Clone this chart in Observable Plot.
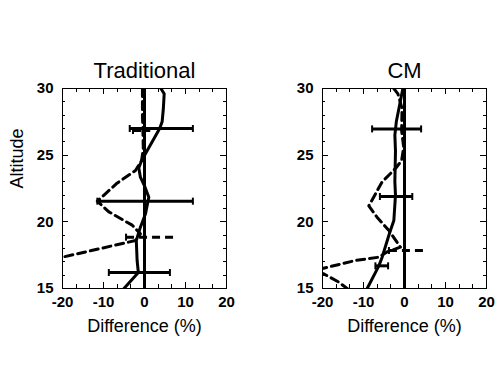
<!DOCTYPE html>
<html>
<head>
<meta charset="utf-8">
<script src="https://cdn.jsdelivr.net/npm/d3@7"></script>
<script src="https://cdn.jsdelivr.net/npm/@observablehq/plot@0.6"></script>
<style>
  html, body { margin: 0; padding: 0; background: #fff; }
  #chart { position: relative; width: 504px; height: 372px; background: #fff; overflow: hidden; }
  #chart svg { position: absolute; top: 0; }
</style>
</head>
<body>
<div id="chart"></div>
<script>
// ---------- data ----------
const panelTitles = ["Traditional", "CM"];

// Traditional panel: solid profile (difference %, altitude)
const tradSolidX   = [4.0, 4.8, 4.6, 4.3, 3.7, -0.7, -1.4, -1.0, 0.0, 1.05, 0.25, -1.0, -2.0, -1.8, -1.5, -5.0];
const tradSolidAlt = [30, 29.6, 28.5, 27.5, 27.0, 24.6, 24.05, 23.35, 22.7, 21.85, 20.6, 19.6, 18.6, 17.1, 16.2, 15.0];
// Traditional panel: dashed profile
const tradDashX    = [-0.5, -0.5, -0.4, -0.3, -0.7, -2.2, -6.7, -11.5, -8.7, -3.0, -1.0, -2.2, -20, -26];
const tradDashAlt  = [30, 28, 27, 25.5, 24.6, 23.85, 22.9, 21.55, 20.75, 19.75, 19.1, 18.6, 17.35, 16.9];
// Traditional panel: error bars
const tradSolidBarAlt = [27.0, 21.55, 16.2];
const tradSolidBarLo  = [-3.6, -11.5, -8.7];
const tradSolidBarHi  = [11.8, 11.8, 6.2];
const tradDashBarAlt  = [26.85, 18.85];
const tradDashBarLo   = [-2.8, -4.5];
const tradDashBarHi   = [1.4, 7.3];

// CM panel: solid profile
const cmSolidX   = [-0.4, -1.3, -2.0, -2.35, -2.2, -2.35, -2.2, -2.6, -3.6, -5.45, -6.25, -9.1];
const cmSolidAlt = [30, 28.6, 27.5, 26.5, 25.3, 23.0, 22.0, 20.1, 19.2, 17.35, 16.7, 15.0];
// CM panel: dashed profile
const cmDashX    = [-2.6, -1.6, -0.6, -0.7, -0.2, -0.7, -2.2, -5.45, -8.7, -6.7, -3.8, -1.0, -4.2, -6.25, -12, -20, -23, -19.7, -16, -14, -13];
const cmDashAlt  = [30, 29.6, 28.5, 26.85, 25.6, 24.6, 24.0, 23.0, 21.2, 20.35, 19.35, 18.1, 17.75, 17.35, 17.1, 16.5, 16.3, 16.1, 15.47, 15.0, 14.8];
// CM panel: error bars
const cmSolidBarAlt = [26.97, 21.9, 16.7];
const cmSolidBarLo  = [-7.9, -6.0, -7.1];
const cmSolidBarHi  = [4.05, 1.9, -4.0];
const cmDashBarAlt  = [17.85];
const cmDashBarLo   = [-3.8];
const cmDashBarHi   = [5.3];

// axes
const xDomain = [-20, 20];
const yDomain = [15, 30];
const xMajorTicks = [-20, -10, 0, 10, 20];
const xMinorTicks = [-16.667, -13.333, -6.667, -3.333, 3.333, 6.667, 13.333, 16.667];
const yMajorTicks = [15, 20, 25, 30];
const yMinorTicks = [16, 17, 18, 19, 21, 22, 23, 24, 26, 27, 28, 29];
const xLabel = "Difference (%)";
const yLabel = "Altitude";

// ---------- layout constants ----------
const W = 252, H = 372, MT = 88, MB = 84;
const FRAME_W = 164, FRAME_H = H - MT - MB;

// ---------- helpers ----------
const zip = (xs, ys) => xs.map((x, i) => ({x, y: ys[i]}));
const bars = (alt, lo, hi) => alt.map((a, i) => ({alt: a, lo: lo[i], hi: hi[i]}));
const capSymbol = {
  draw(ctx, size) {
    const h = Math.sqrt(size / Math.PI);
    ctx.moveTo(0, -h);
    ctx.lineTo(0, h);
  }
};
const FONT = "'Liberation Sans', Arial, Helvetica, sans-serif";

// inward ticks drawn as rules inset from the frame
const tickStyle = {stroke: "black", strokeWidth: 1, shapeRendering: "crispEdges"};
function ticksX(ticks, len) {
  return [
    Plot.ruleX(ticks, {x: d => d, insetTop: FRAME_H - len, ...tickStyle}),
    Plot.ruleX(ticks, {x: d => d, insetBottom: FRAME_H - len, ...tickStyle})
  ];
}
function ticksY(ticks, len) {
  return [
    Plot.ruleY(ticks, {y: d => d, insetRight: FRAME_W - len, ...tickStyle}),
    Plot.ruleY(ticks, {y: d => d, insetLeft: FRAME_W - len, ...tickStyle})
  ];
}

function panel({title, solid, dash, solidBars, dashBars, marginLeft, marginRight, showYLabel}) {
  const dashStyle = "8,5";
  const marks = [
    Plot.frame({stroke: "black", strokeWidth: 1, shapeRendering: "crispEdges"}),
    ...ticksX(xMinorTicks, 4),
    ...ticksX(xMajorTicks, 6),
    ...ticksY(yMinorTicks, 3),
    ...ticksY(yMajorTicks, 6),
    // tick labels
    Plot.axisX({anchor: "bottom", ticks: xMajorTicks, tickSize: 0, tickPadding: 8, fontSize: 15, fontWeight: "bold", label: null, tickFormat: d => String(d)}),
    Plot.axisY({anchor: "left", ticks: yMajorTicks, tickSize: 0, tickPadding: 9, fontSize: 15, fontWeight: "bold", label: null}),
    // zero line
    Plot.ruleX([0], {stroke: "black", strokeWidth: 3}),
    // profiles
    Plot.line(solid, {x: "x", y: "y", stroke: "black", strokeWidth: 3, curve: "linear", clip: true}),
    Plot.line(dash, {x: "x", y: "y", stroke: "black", strokeWidth: 3, strokeDasharray: dashStyle, curve: "linear", clip: true}),
    // error bars (solid)
    Plot.link(solidBars, {x1: "lo", x2: "hi", y1: "alt", y2: "alt", stroke: "black", strokeWidth: 3}),
    Plot.dot(solidBars, {x: "lo", y: "alt", symbol: capSymbol, r: 3.5, stroke: "black", strokeWidth: 2}),
    Plot.dot(solidBars, {x: "hi", y: "alt", symbol: capSymbol, r: 3.5, stroke: "black", strokeWidth: 2}),
    // error bars (dashed)
    Plot.link(dashBars, {x1: "lo", x2: "hi", y1: "alt", y2: "alt", stroke: "black", strokeWidth: 3, strokeDasharray: dashStyle}),
    Plot.dot(dashBars, {x: "lo", y: "alt", symbol: capSymbol, r: 3.5, stroke: "black", strokeWidth: 2}),
    // titles and labels
    Plot.text([title], {text: d => d, frameAnchor: "top", dy: -17.5, lineAnchor: "middle", fontSize: 22}),
    Plot.text([xLabel], {text: d => d, frameAnchor: "bottom", dy: 37.5, lineAnchor: "middle", fontSize: 18})
  ];
  if (showYLabel) {
    marks.push(Plot.text([yLabel], {text: d => d, frameAnchor: "left", dx: -45, rotate: -90, lineAnchor: "middle", fontSize: 18}));
  }
  return Plot.plot({
    width: W,
    height: H,
    marginTop: MT,
    marginBottom: MB,
    marginLeft,
    marginRight,
    x: {domain: xDomain},
    y: {domain: yDomain},
    style: {fontFamily: FONT, color: "black", background: "white", overflow: "visible"},
    marks
  });
}

const left = panel({
  title: panelTitles[0],
  solid: zip(tradSolidX, tradSolidAlt),
  dash: zip(tradDashX, tradDashAlt),
  solidBars: bars(tradSolidBarAlt, tradSolidBarLo, tradSolidBarHi),
  dashBars: bars(tradDashBarAlt, tradDashBarLo, tradDashBarHi),
  marginLeft: 62, marginRight: W - 62 - FRAME_W, showYLabel: true
});
left.style.left = "0px";

const right = panel({
  title: panelTitles[1],
  solid: zip(cmSolidX, cmSolidAlt),
  dash: zip(cmDashX, cmDashAlt),
  solidBars: bars(cmSolidBarAlt, cmSolidBarLo, cmSolidBarHi),
  dashBars: bars(cmDashBarAlt, cmDashBarLo, cmDashBarHi),
  marginLeft: 70, marginRight: W - 70 - FRAME_W, showYLabel: false
});
right.style.left = "252px";

const chart = document.getElementById("chart");
chart.appendChild(left);
chart.appendChild(right);
</script>
</body>
</html>
